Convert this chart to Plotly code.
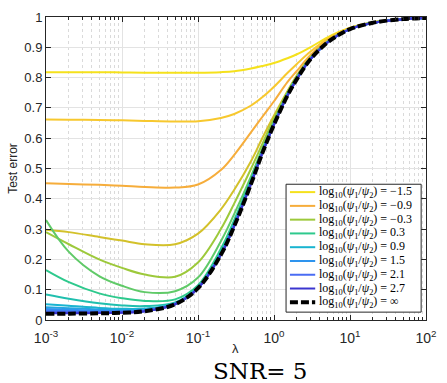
import plotly.graph_objects as go

# ---------------- data ----------------
lam = [0.001, 0.002, 0.005, 0.01, 0.02, 0.05, 0.1, 0.2, 0.3, 0.5, 0.7,
       1, 1.5, 2, 3, 5, 7, 10, 20, 50, 100]

err_m15 = [0.818, 0.818, 0.818, 0.817, 0.816, 0.816, 0.816, 0.818, 0.821, 0.830, 0.838,
           0.848, 0.864, 0.877, 0.900, 0.932, 0.950, 0.965, 0.983, 0.993, 0.997]
err_m12 = [0.662, 0.661, 0.660, 0.659, 0.657, 0.655, 0.656, 0.667, 0.680, 0.708, 0.735,
           0.770, 0.815, 0.845, 0.885, 0.927, 0.947, 0.963, 0.982, 0.993, 0.997]
err_m09 = [0.451, 0.449, 0.446, 0.443, 0.439, 0.437, 0.447, 0.495, 0.545, 0.620, 0.670,
           0.722, 0.785, 0.822, 0.874, 0.922, 0.944, 0.962, 0.982, 0.993, 0.997]
err_m06 = [0.298, 0.290, 0.274, 0.262, 0.250, 0.250, 0.285, 0.365, 0.430, 0.525, 0.600,
           0.675, 0.755, 0.808, 0.867, 0.918, 0.942, 0.961, 0.982, 0.993, 0.997]
err_m03 = [0.290, 0.250, 0.200, 0.172, 0.150, 0.143, 0.190, 0.300, 0.385, 0.500, 0.580,
           0.665, 0.752, 0.805, 0.865, 0.918, 0.942, 0.961, 0.982, 0.993, 0.997]
err_p00 = [0.330, 0.225, 0.145, 0.113, 0.092, 0.095, 0.140, 0.260, 0.350, 0.475, 0.565,
           0.655, 0.748, 0.802, 0.864, 0.917, 0.941, 0.961, 0.982, 0.993, 0.997]
err_p03 = [0.165, 0.125, 0.088, 0.072, 0.063, 0.068, 0.115, 0.235, 0.330, 0.465, 0.558,
           0.650, 0.745, 0.800, 0.862, 0.916, 0.941, 0.960, 0.981, 0.993, 0.997]
err_p06 = [0.084, 0.070, 0.055, 0.048, 0.046, 0.058, 0.108, 0.225, 0.322, 0.460, 0.555,
           0.648, 0.743, 0.798, 0.861, 0.916, 0.940, 0.960, 0.981, 0.993, 0.997]
err_p09 = [0.052, 0.047, 0.040, 0.037, 0.038, 0.055, 0.107, 0.220, 0.318, 0.457, 0.553,
           0.647, 0.742, 0.797, 0.861, 0.915, 0.940, 0.960, 0.981, 0.993, 0.997]
err_p12 = [0.042, 0.039, 0.035, 0.033, 0.035, 0.054, 0.106, 0.218, 0.314, 0.455, 0.552,
           0.646, 0.741, 0.796, 0.860, 0.915, 0.940, 0.960, 0.981, 0.993, 0.997]
err_p15 = [0.036, 0.034, 0.031, 0.030, 0.032, 0.053, 0.106, 0.217, 0.313, 0.454, 0.551,
           0.646, 0.741, 0.796, 0.860, 0.915, 0.940, 0.960, 0.981, 0.993, 0.997]
err_p18 = [0.031, 0.030, 0.028, 0.028, 0.031, 0.053, 0.105, 0.216, 0.312, 0.453, 0.551,
           0.645, 0.740, 0.795, 0.860, 0.915, 0.940, 0.960, 0.981, 0.993, 0.997]
err_p21 = [0.027, 0.026, 0.025, 0.026, 0.030, 0.052, 0.105, 0.215, 0.311, 0.452, 0.550,
           0.645, 0.740, 0.795, 0.860, 0.915, 0.940, 0.960, 0.981, 0.993, 0.997]
err_p24 = [0.024, 0.024, 0.024, 0.025, 0.029, 0.052, 0.105, 0.215, 0.310, 0.451, 0.550,
           0.645, 0.740, 0.795, 0.860, 0.915, 0.940, 0.960, 0.981, 0.993, 0.997]
err_p27 = [0.022, 0.022, 0.023, 0.024, 0.029, 0.052, 0.105, 0.215, 0.310, 0.450, 0.550,
           0.645, 0.740, 0.795, 0.860, 0.915, 0.940, 0.960, 0.981, 0.993, 0.997]
err_inf = [0.021, 0.021, 0.022, 0.024, 0.029, 0.052, 0.105, 0.215, 0.310, 0.450, 0.550,
           0.645, 0.740, 0.795, 0.860, 0.915, 0.940, 0.960, 0.981, 0.993, 0.997]

psi_labels = ["-1.5", "-1.2", "-0.9", "-0.6", "-0.3", "0", "0.3", "0.6", "0.9",
              "1.2", "1.5", "1.8", "2.1", "2.4", "2.7"]
series = [err_m15, err_m12, err_m09, err_m06, err_m03, err_p00, err_p03, err_p06,
          err_p09, err_p12, err_p15, err_p18, err_p21, err_p24, err_p27]
colors = ["#f5e11c", "#f7c82e", "#f6ad3b", "#d3c12a", "#9dc93b", "#60ca68", "#2ec98d",
          "#20bfae", "#19b4d0", "#22a5e0", "#2e94ee", "#3c80f2", "#4a6cf3", "#4752e2", "#3b35cf"]
legend_psi = ["-1.5", "-0.9", "-0.3", "0.3", "0.9", "1.5", "2.1", "2.7"]

xtick_vals = [0.001, 0.01, 0.1, 1, 10, 100]
xtick_text = ["10<sup>-3</sup>", "10<sup>-2</sup>", "10<sup>-1</sup>",
              "10<sup>0</sup>", "10<sup>1</sup>", "10<sup>2</sup>"]
xminor_vals = [k * d for d in [0.001, 0.01, 0.1, 1, 10] for k in range(2, 10)]
ytick_vals = [0, 0.1, 0.2, 0.3, 0.4, 0.5, 0.6, 0.7, 0.8, 0.9, 1]
ytick_text = ["0", "0.1", "0.2", "0.3", "0.4", "0.5", "0.6", "0.7", "0.8", "0.9", "1"]

# ---------------- figure ----------------
W, H = 447, 383
ML, MR, MT, MB = 46, 10, 12, 63
PW, PH = W - ML - MR, H - MT - MB

fig = go.Figure()
for ys, c, p in zip(series, colors, psi_labels):
    fig.add_trace(go.Scatter(x=lam, y=ys, mode="lines", name=p,
                             line=dict(color=c, width=2, shape="spline", smoothing=1.0),
                             showlegend=False, hoverinfo="skip"))
fig.add_trace(go.Scatter(x=lam, y=err_inf, mode="lines", name="inf",
                         line=dict(color="black", width=4, dash="8px,3px",
                                   shape="spline", smoothing=1.0),
                         showlegend=False, hoverinfo="skip"))

axis_col = "#262626"
fig.update_xaxes(type="log", range=[-3, 2], tickmode="array", tickvals=xtick_vals,
                 ticktext=xtick_text, ticks="inside", ticklen=5, tickcolor=axis_col,
                 showline=True, linecolor=axis_col, linewidth=1, mirror="ticks",
                 showgrid=True, gridcolor="#e3e3e3", gridwidth=1, zeroline=False,
                 ticklabelstandoff=5,
                 tickfont=dict(family="Liberation Sans, Arial", size=14, color=axis_col),
                 minor=dict(tickmode="array", tickvals=xminor_vals, ticks="inside",
                            ticklen=3, tickcolor=axis_col, showgrid=True,
                            gridcolor="#dadada", griddash="dot", gridwidth=1))
fig.update_yaxes(range=[0, 1], tickmode="array", tickvals=ytick_vals, ticktext=ytick_text,
                 ticks="inside", ticklen=5, tickcolor=axis_col,
                 showline=True, linecolor=axis_col, linewidth=1, mirror="ticks",
                 showgrid=True, gridcolor="#e3e3e3", gridwidth=1, zeroline=False,
                 tickfont=dict(family="Liberation Sans, Arial", size=13, color=axis_col),
                 title=dict(text="Test error", font=dict(family="Liberation Sans, Arial",
                                                         size=12, color=axis_col), standoff=4))

# custom compact legend (paper coords)
def px2x(px):
    return (px - ML) / PW

def py2y(py):
    return (H - MB - py) / PH

shapes = [dict(type="rect", xref="paper", yref="paper", x0=px2x(293), x1=px2x(432),
               y0=py2y(312), y1=py2y(182), fillcolor="white",
               line=dict(color=axis_col, width=1), layer="above")]
annotations = []
leg_items = [(colors[psi_labels.index(p)], p) for p in legend_psi] + [("black", "inf")]
for i, (c, p) in enumerate(leg_items):
    yy = py2y(190 + 14 * i)
    if p == "inf":
        shapes.append(dict(type="line", xref="paper", yref="paper", x0=px2x(297),
                           x1=px2x(323), y0=yy, y1=yy, layer="above",
                           line=dict(color="black", width=4, dash="8px,3px")))
        val = "∞"
    else:
        shapes.append(dict(type="line", xref="paper", yref="paper", x0=px2x(297),
                           x1=px2x(323), y0=yy, y1=yy, layer="above",
                           line=dict(color=c, width=2)))
        val = p.replace("-", "−")
    annotations.append(dict(xref="paper", yref="paper", x=px2x(325), y=yy,
                            xanchor="left", yanchor="middle", showarrow=False,
                            text="log<sub>10</sub>(<i>ψ</i><sub>1</sub>/<i>ψ</i><sub>2</sub>) = " + val,
                            font=dict(family="Liberation Serif, serif", size=12,
                                      color="black")))

# x-axis title and panel caption
annotations.append(dict(xref="paper", yref="paper", x=px2x(241), y=py2y(349),
                        xanchor="center", yanchor="middle", showarrow=False,
                        text="λ",
                        font=dict(family="Liberation Sans, Arial", size=13, color=axis_col)))
annotations.append(dict(xref="paper", yref="paper", x=px2x(266), y=py2y(372),
                        xanchor="center", yanchor="middle", showarrow=False,
                        text="SNR= 5",
                        font=dict(family="DejaVu Serif, serif", size=23, color="black")))

fig.update_layout(width=W, height=H, margin=dict(l=ML, r=MR, t=MT, b=MB),
                  plot_bgcolor="white", paper_bgcolor="white",
                  shapes=shapes, annotations=annotations, showlegend=False)

fig.write_html("out.html")
